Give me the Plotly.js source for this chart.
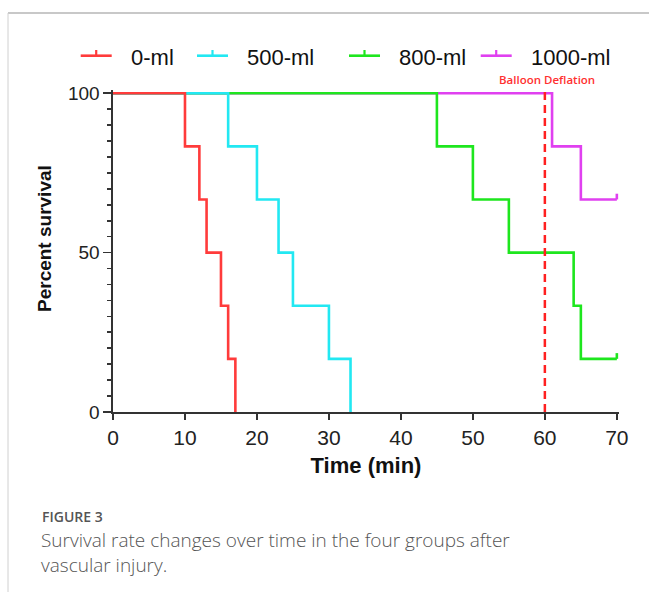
<!DOCTYPE html>
<html>
<head>
<meta charset="utf-8">
<script src="https://cdn.plot.ly/plotly-3.0.1.min.js"></script>
<style>
  html, body { margin: 0; padding: 0; background: #fff; }
  #chart { width: 649px; height: 592px; }
</style>
</head>
<body>
<div id="chart"></div>
<script>
// Group names (legend order)
const groups = ["0-ml", "500-ml", "800-ml", "1000-ml"];
const colors = ["#ff3b3b", "#22e8f2", "#1ee61e", "#e040f0"];

// Kaplan-Meier step data: time (min) and percent survival
const t0 = [0, 10, 12, 13, 15, 16, 17];
const s0 = [100, 83.33, 66.67, 50, 33.33, 16.67, 0];

const t500 = [0, 16, 20, 23, 25, 30, 33];
const s500 = [100, 83.33, 66.67, 50, 33.33, 16.67, 0];

const t800 = [0, 45, 50, 55, 64, 65, 70];
const s800 = [100, 83.33, 66.67, 50, 33.33, 16.67, 16.67];

const t1000 = [0, 61, 65, 70];
const s1000 = [100, 83.33, 66.67, 66.67];

// censored marks (upward tick) at last point
const cens800 = [0, 0, 0, 0, 0, 0, 1.8];
const cens1000 = [0, 0, 0, 1.8];

const deflationTime = 60;
const xTicks = [0, 10, 20, 30, 40, 50, 60, 70];

const allT = [t0, t500, t800, t1000];
const allS = [s0, s500, s800, s1000];
const allC = [null, null, cens800, cens1000];

// ---- layout geometry (pixels) ----
const W = 649, H = 592;
const M = { l: 113, r: 30, t: 90, b: 180 };
const PW = W - M.l - M.r, PH = H - M.t - M.b;
const px2x = p => (p - M.l) / PW;
const px2y = p => (H - M.b - p) / PH;

const traces = [];
for (let i = 3; i >= 0; i--) {
  const tr = {
    x: allT[i], y: allS[i], name: groups[i],
    type: "scatter", mode: "lines", showlegend: false,
    line: { shape: "hv", color: colors[i], width: 2.6 },
    hoverinfo: "x+y"
  };
  if (allC[i]) {
    tr.error_y = { type: "data", symmetric: false, array: allC[i],
      arrayminus: allC[i].map(() => 0), width: 0, thickness: 2.6, color: colors[i] };
  }
  traces.push(tr);
}

const font = "'Liberation Sans', Arial, sans-serif";
const capFont = "'Open Sans', 'Noto Sans', sans-serif";

const shapes = [
  { type: "line", xref: "x", yref: "y", x0: deflationTime, x1: deflationTime, y0: 0, y1: 101.5,
    line: { color: "#ff2020", width: 2.5, dash: "8px,5px" } },
  { type: "line", xref: "paper", yref: "paper", x0: px2x(8), x1: 1.2, y0: px2y(13), y1: px2y(13),
    line: { color: "#c8c8c8", width: 2 } },
  { type: "line", xref: "paper", yref: "paper", x0: px2x(8), x1: px2x(8), y0: px2y(13), y1: -0.7,
    line: { color: "#d0d0d0", width: 1 } }
];

const annotations = [
  { xref: "x", yref: "y", x: deflationTime, y: 104.5, ax: 0, ay: 10,
    showarrow: true, arrowhead: 2, arrowsize: 1, arrowwidth: 2, arrowcolor: "#ff2020", text: "" },
  { xref: "x", yref: "paper", x: deflationTime + 0.3, y: px2y(79), yanchor: "middle", xanchor: "center",
    showarrow: false, text: "Balloon Deflation",
    font: { family: capFont, size: 11.5, color: "#ff3030", weight: 600 } },
  { xref: "paper", yref: "paper", x: px2x(44), y: px2y(239), xanchor: "center", yanchor: "middle",
    showarrow: false, textangle: -90, text: "<b>Percent survival</b>",
    font: { family: font, size: 19, color: "#111" } },
  { xref: "paper", yref: "paper", x: px2x(41), y: px2y(516), xanchor: "left", yanchor: "middle",
    showarrow: false, text: "FIGURE 3", borderpad: 0,
    font: { family: capFont, size: 14, color: "#555", weight: 600 } },
  { xref: "paper", yref: "paper", x: px2x(40), y: px2y(552), xanchor: "left", yanchor: "middle",
    showarrow: false, align: "left", borderpad: 0,
    text: "Survival rate changes over time in the four groups after<br>vascular injury.",
    font: { family: capFont, size: 19, color: "#555", weight: 300 } }
];

// ---- legend drawn as line + censor tick + label ----
const legendLineX = [80.7, 197, 349, 480.7];
const legendY = 55.7, legendLen = 31, legendTick = 5.7, legendTextGap = 48;
groups.forEach((g, i) => {
  const x0 = legendLineX[i];
  shapes.push({ type: "line", xref: "paper", yref: "paper",
    x0: px2x(x0), x1: px2x(x0 + legendLen), y0: px2y(legendY), y1: px2y(legendY),
    line: { color: colors[i], width: 2.6 } });
  shapes.push({ type: "line", xref: "paper", yref: "paper",
    x0: px2x(x0 + legendLen / 2), x1: px2x(x0 + legendLen / 2), y0: px2y(legendY), y1: px2y(legendY - legendTick),
    line: { color: colors[i], width: 2.2 } });
  annotations.push({ xref: "paper", yref: "paper", x: px2x(x0 + legendTextGap), y: px2y(57),
    xanchor: "left", yanchor: "middle", showarrow: false, text: g,
    font: { family: font, size: 22, color: "#111" } });
});

const layout = {
  width: W, height: H,
  margin: M,
  paper_bgcolor: "#fff", plot_bgcolor: "#fff",
  showlegend: false,
  xaxis: {
    range: [0, 70.3], tickvals: xTicks, ticktext: xTicks.map(String),
    showgrid: false, zeroline: false,
    showline: true, linecolor: "#333", linewidth: 1.6,
    ticks: "outside", ticklen: 6, tickwidth: 1.6, tickcolor: "#333",
    tickfont: { family: font, size: 21, color: "#222" },
    title: { text: "<b>Time (min)</b>", font: { family: font, size: 22, color: "#111" }, standoff: 10 }
  },
  yaxis: {
    range: [0, 101], tickvals: [0, 50, 100],
    showgrid: false, zeroline: false,
    showline: true, linecolor: "#333", linewidth: 1.6,
    ticks: "outside", ticklen: 8, tickwidth: 1.6, tickcolor: "#333",
    minor: { dtick: 5, tick0: 0, ticks: "outside", ticklen: 4, tickwidth: 1.6, tickcolor: "#333", showgrid: false },
    tickfont: { family: font, size: 19, color: "#222" }
  },
  shapes: shapes,
  annotations: annotations
};

Plotly.newPlot("chart", traces, layout, { displayModeBar: false, staticPlot: true });
</script>
</body>
</html>
